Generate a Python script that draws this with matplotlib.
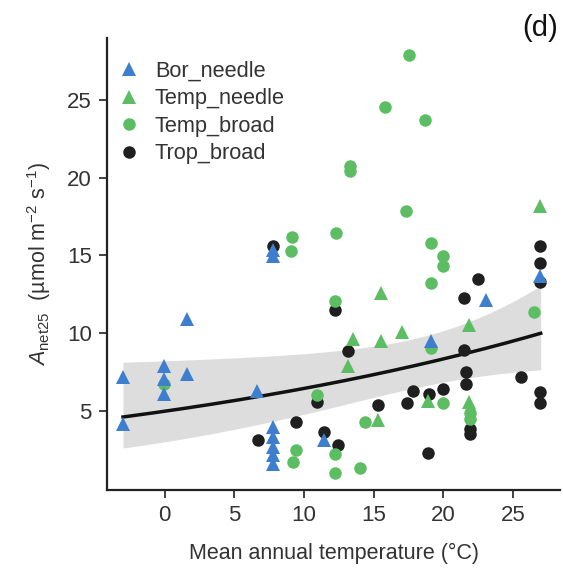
import numpy as np
import matplotlib
matplotlib.use("Agg")
import matplotlib.pyplot as plt

plt.rcParams['font.family'] = ['Liberation Sans', 'DejaVu Sans']
plt.rcParams['mathtext.fontset'] = 'custom'
plt.rcParams['mathtext.rm'] = 'Liberation Sans'
plt.rcParams['mathtext.it'] = 'Liberation Sans:italic'

# Bor_needle (blue triangles)
bor_x = [-3.0, -3.0, -0.05, -0.05, -0.05, 1.63, 1.63, 6.66, 7.76, 7.76,
         7.76, 7.76, 7.76, 7.76, 7.76, 11.46, 23.09, 26.93, 19.1]
bor_y = [7.19, 4.19, 7.9, 7.03, 6.12, 10.9, 7.37, 6.27, 15.37, 14.95,
         3.97, 3.32, 2.68, 2.14, 1.61, 3.11, 12.14, 13.65, 9.52]

# Temp_needle (green triangles)
tn_x = [13.49, 13.13, 15.52, 15.52, 17.07, 21.85, 18.93, 21.85, 15.33, 26.93]
tn_y = [9.63, 7.9, 12.57, 9.52, 10.06, 10.53, 5.67, 5.6, 4.4, 18.2]

# Temp_broad (green circles)
tb_x = [-0.05, 9.15, 9.07, 12.3, 12.25, 13.3, 13.3, 15.83, 18.7, 17.55,
        17.36, 19.15, 20.01, 20.01, 19.15, 19.15, 26.55, 20.01, 21.9, 21.9,
        14.4, 14.02, 9.43, 9.2, 10.91, 12.25, 12.25]
tb_y = [6.72, 16.19, 15.32, 16.45, 12.08, 20.74, 20.42, 24.55, 23.69, 27.9,
        17.84, 15.8, 14.98, 14.34, 13.26, 9.06, 11.39, 5.52, 4.85, 4.45,
        4.29, 1.35, 2.51, 1.71, 6.0, 2.25, 1.03]

# Trop_broad (black circles)
trb_x = [7.76, 6.68, 9.43, 10.91, 11.46, 12.46, 12.25, 13.13, 15.33, 17.39,
         17.84, 18.98, 20.01, 18.93, 21.49, 22.52, 21.49, 21.6, 21.6, 21.9,
         21.9, 26.93, 26.93, 26.93, 26.93, 26.93, 25.55]
trb_y = [15.63, 3.15, 4.27, 5.58, 3.67, 2.82, 11.5, 8.87, 5.41, 5.54,
         6.25, 6.12, 6.39, 2.32, 12.25, 13.48, 8.92, 7.48, 6.72, 3.86,
         3.54, 15.58, 14.51, 13.28, 6.23, 5.54, 7.19]

# exponential fit: y = exp(b0 + b1*x), log-scale CI half width
fit_b0 = np.log(4.98)
fit_b1 = 0.0258
ci_a, ci_b, ci_c = 0.0387, 5.66e-4, 19.4
fit_xmin, fit_xmax = -3.0, 27.0

blue = '#3d7ece'
green = '#5cbd63'
black = '#1f1f1f'
txt = '#333333'

fig = plt.figure(figsize=(5.63, 5.74), dpi=100)
ax = fig.add_axes([0.19, 0.146, 0.805, 0.788])

xs = np.linspace(fit_xmin, fit_xmax, 200)
eta = fit_b0 + fit_b1 * xs
half = np.sqrt(ci_a + ci_b * (xs - ci_c) ** 2)
ax.fill_between(xs, np.exp(eta - half), np.exp(eta + half), color='#dddddd', lw=0, zorder=1)
ax.plot(xs, np.exp(eta), color='#111111', lw=2.5, zorder=2)

ax.plot(trb_x, trb_y, 'o', color=black, ms=9, mew=0, zorder=3, label='Trop_broad')
ax.plot(tb_x, tb_y, 'o', color=green, ms=9, mew=0, zorder=4, label='Temp_broad')
ax.plot(tn_x, tn_y, '^', color=green, ms=9.5, mew=0, zorder=5, label='Temp_needle')
ax.plot(bor_x, bor_y, '^', color=blue, ms=9.5, mew=0, zorder=6, label='Bor_needle')

handles, labels = ax.get_legend_handles_labels()
order = [3, 2, 1, 0]
ax.legend([handles[i] for i in order], [labels[i] for i in order],
          loc='upper left', bbox_to_anchor=(-0.024, 0.993), frameon=False,
          fontsize=15.7, handletextpad=0.6, labelspacing=0.3, handlelength=1.2,
          labelcolor=txt)

ax.set_xlim(-4.15, 28.4)
ax.set_ylim(-0.1, 29.0)
ax.set_xticks([0, 5, 10, 15, 20, 25])
ax.set_yticks([5, 10, 15, 20, 25])

for s in ['top', 'right']:
    ax.spines[s].set_visible(False)
for s in ['left', 'bottom']:
    ax.spines[s].set_linewidth(1.6)
    ax.spines[s].set_color('#222222')
ax.tick_params(direction='out', length=6, width=1.3, color='#333333',
               labelsize=16, labelcolor=txt, pad=5)

ax.set_xlabel('Mean annual temperature (°C)', fontsize=15.5, color=txt, labelpad=12)
ax.set_ylabel(r'$A_{\mathrm{net25}}$  (µmol m$^{-2}$ s$^{-1}$)', fontsize=15.5,
              color=txt, labelpad=10)

fig.text(0.991, 0.951, '(d)', fontsize=21, color='#111111', ha='right', va='center')

fig.savefig('out.png', dpi=100)
